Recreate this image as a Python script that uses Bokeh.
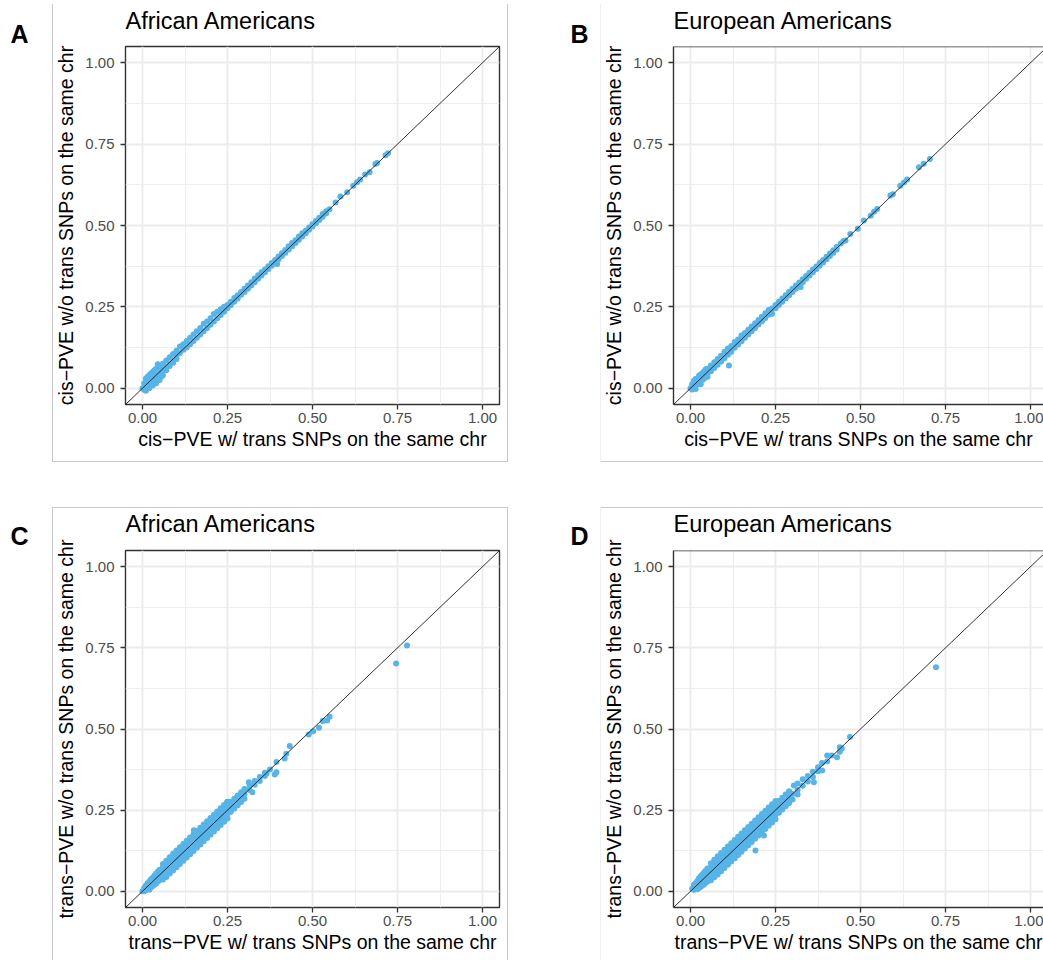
from bokeh.plotting import figure
from bokeh.models import (FixedTicker, Slope, Span, Title, NumeralTickFormatter)
from bokeh.layouts import column, row
from bokeh.embed import file_html
from bokeh.resources import INLINE

# ---------------- data ----------------
tick_vals = [0.0, 0.25, 0.5, 0.75, 1.0]
tick_labels = ["0.00", "0.25", "0.50", "0.75", "1.00"]
minor_vals = [0.125, 0.375, 0.625, 0.875]

titles = ["African Americans", "European Americans", "African Americans", "European Americans"]
letters = ["A", "B", "C", "D"]
x_labels = ["cis\u2212PVE w/ trans SNPs on the same chr", "cis\u2212PVE w/ trans SNPs on the same chr",
            "trans\u2212PVE w/ trans SNPs on the same chr", "trans\u2212PVE w/ trans SNPs on the same chr"]
y_labels = ["cis\u2212PVE w/o trans SNPs on the same chr", "cis\u2212PVE w/o trans SNPs on the same chr",
            "trans\u2212PVE w/o trans SNPs on the same chr", "trans\u2212PVE w/o trans SNPs on the same chr"]

# Panel A: cis-PVE, African Americans
A_x = [0.000, 0.005, 0.005, 0.010, 0.010, 0.010, 0.015, 0.015, 0.020, 0.020, 0.020, 0.025, 0.025,
       0.030, 0.030, 0.030, 0.035, 0.035, 0.040, 0.040, 0.040, 0.045, 0.045, 0.050, 0.050, 0.050,
       0.055, 0.055, 0.060, 0.060, 0.060, 0.070, 0.070, 0.070, 0.080, 0.080, 0.080, 0.090, 0.090,
       0.090, 0.100, 0.100, 0.100, 0.110, 0.110, 0.120, 0.120, 0.130, 0.130, 0.140, 0.140, 0.150,
       0.150, 0.160, 0.160, 0.170, 0.170, 0.180, 0.180, 0.190, 0.190, 0.200, 0.200, 0.210, 0.210,
       0.220, 0.220, 0.230, 0.230, 0.240, 0.240,
       0.25, 0.25, 0.26, 0.26, 0.27, 0.27, 0.28, 0.28, 0.29, 0.29, 0.30, 0.30, 0.31, 0.31, 0.32, 0.32,
       0.33, 0.33, 0.34, 0.34, 0.35, 0.35, 0.36, 0.36, 0.37, 0.37, 0.38, 0.38, 0.39, 0.39, 0.40, 0.40,
       0.41, 0.41, 0.42, 0.42, 0.43, 0.43, 0.44, 0.44, 0.45, 0.45, 0.46, 0.46, 0.47, 0.47, 0.48, 0.48,
       0.49, 0.49, 0.50, 0.50, 0.51, 0.51, 0.52, 0.52, 0.53, 0.53, 0.54, 0.54,
       0.396, 0.550, 0.568, 0.582, 0.602, 0.620, 0.631, 0.640, 0.655, 0.668, 0.685, 0.690, 0.715,
       0.722]
A_y = [0.000, 0.015, -0.005, 0.030, 0.010, -0.008, 0.035, 0.000, 0.040, 0.020, 0.000, 0.045, 0.010,
       0.050, 0.030, 0.008, 0.055, 0.015, 0.060, 0.040, 0.015, 0.074, 0.025, 0.065, 0.045, 0.025,
       0.060, 0.035, 0.075, 0.055, 0.040, 0.085, 0.065, 0.055, 0.095, 0.075, 0.068, 0.105, 0.085,
       0.078, 0.115, 0.100, 0.090, 0.128, 0.108, 0.135, 0.118, 0.145, 0.125, 0.155, 0.135, 0.165,
       0.145, 0.175, 0.155, 0.185, 0.165, 0.198, 0.175, 0.205, 0.185, 0.215, 0.195, 0.228, 0.205,
       0.235, 0.215, 0.243, 0.225, 0.250, 0.235,
       0.256, 0.246, 0.266, 0.256, 0.277, 0.266, 0.286, 0.276, 0.296, 0.287, 0.306, 0.296, 0.316, 0.306,
       0.326, 0.316, 0.337, 0.326, 0.347, 0.336, 0.356, 0.346, 0.365, 0.356, 0.375, 0.366, 0.385, 0.376,
       0.394, 0.384, 0.405, 0.396, 0.415, 0.406, 0.425, 0.416, 0.436, 0.426, 0.446, 0.436, 0.455, 0.446,
       0.466, 0.456, 0.476, 0.466, 0.484, 0.476, 0.494, 0.487, 0.504, 0.497, 0.514, 0.507, 0.524, 0.517,
       0.535, 0.527, 0.544, 0.537,
       0.382, 0.550, 0.571, 0.589, 0.602, 0.622, 0.633, 0.641, 0.657, 0.664, 0.689, 0.692, 0.716,
       0.722]

# Panel B: cis-PVE, European Americans
B_x = [0.000, 0.005, 0.005, 0.010, 0.010, 0.015, 0.015, 0.015, 0.020, 0.020, 0.025, 0.025, 0.030,
       0.030, 0.030, 0.035, 0.035, 0.040, 0.040, 0.045, 0.045, 0.050, 0.050, 0.050, 0.060, 0.060,
       0.070, 0.070, 0.080, 0.080, 0.090, 0.090, 0.100, 0.100, 0.113, 0.110, 0.110, 0.120, 0.120,
       0.130, 0.130, 0.140, 0.140, 0.150, 0.150, 0.160, 0.160, 0.170, 0.170, 0.180, 0.180, 0.190,
       0.190, 0.200, 0.200, 0.210, 0.210, 0.220, 0.220, 0.230, 0.230, 0.240, 0.240,
       0.25, 0.25, 0.26, 0.26, 0.27, 0.27, 0.28, 0.28, 0.29, 0.29, 0.30, 0.30, 0.31, 0.31, 0.32, 0.32,
       0.33, 0.33, 0.34, 0.34, 0.35, 0.35, 0.36, 0.36, 0.37, 0.37, 0.38, 0.38, 0.39, 0.39, 0.40, 0.40,
       0.41, 0.41, 0.42, 0.42, 0.43, 0.43,
       0.324, 0.442, 0.450, 0.456, 0.470, 0.492, 0.510, 0.530, 0.540, 0.549, 0.588, 0.595, 0.617,
       0.628, 0.637, 0.672, 0.686, 0.704]
B_y = [0.000, 0.012, -0.004, 0.022, 0.005, 0.028, 0.008, -0.002, 0.030, 0.012, 0.038, 0.015, 0.042,
       0.022, 0.012, 0.046, 0.025, 0.052, 0.030, 0.058, 0.035, 0.060, 0.045, 0.035, 0.070, 0.052,
       0.080, 0.062, 0.090, 0.072, 0.100, 0.082, 0.112, 0.092, 0.070, 0.122, 0.103, 0.130, 0.112,
       0.142, 0.124, 0.150, 0.134, 0.162, 0.144, 0.170, 0.155, 0.180, 0.165, 0.190, 0.175, 0.200,
       0.185, 0.210, 0.196, 0.220, 0.206, 0.230, 0.216, 0.240, 0.226, 0.245, 0.229,
       0.256, 0.246, 0.266, 0.256, 0.276, 0.266, 0.286, 0.276, 0.296, 0.286, 0.306, 0.296, 0.316, 0.306,
       0.325, 0.316, 0.335, 0.326, 0.345, 0.336, 0.355, 0.346, 0.365, 0.356, 0.374, 0.366, 0.385, 0.376,
       0.394, 0.386, 0.404, 0.396, 0.414, 0.406, 0.424, 0.416, 0.434, 0.426,
       0.311, 0.445, 0.452, 0.454, 0.474, 0.490, 0.515, 0.530, 0.542, 0.551, 0.592, 0.596, 0.622,
       0.632, 0.641, 0.679, 0.690, 0.704]

# Panel C: trans-PVE, African Americans
C_x = [0.000, 0.005, 0.005, 0.010, 0.010, 0.015, 0.015, 0.020, 0.020, 0.020, 0.025, 0.025, 0.025,
       0.030, 0.030, 0.030, 0.035, 0.035, 0.035, 0.040, 0.040, 0.040, 0.045, 0.045, 0.045, 0.050,
       0.050, 0.050,
       0.06, 0.06, 0.06, 0.06, 0.06, 0.07, 0.07, 0.07, 0.07, 0.07, 0.08, 0.08, 0.08, 0.08, 0.08,
       0.09, 0.09, 0.09, 0.09, 0.09, 0.10, 0.10, 0.10, 0.10, 0.10, 0.11, 0.11, 0.11, 0.11, 0.11,
       0.12, 0.12, 0.12, 0.12, 0.12, 0.13, 0.13, 0.13, 0.13, 0.13, 0.14, 0.14, 0.14, 0.14, 0.14,
       0.15, 0.15, 0.15, 0.15, 0.15, 0.16, 0.16, 0.16, 0.16, 0.16, 0.17, 0.17, 0.17, 0.17, 0.17,
       0.18, 0.18, 0.18, 0.18, 0.18, 0.19, 0.19, 0.19, 0.19, 0.19, 0.20, 0.20, 0.20, 0.20, 0.20,
       0.21, 0.21, 0.21, 0.21, 0.21, 0.22, 0.22, 0.22, 0.22, 0.22, 0.23, 0.23, 0.23, 0.23, 0.23,
       0.24, 0.24, 0.24, 0.24, 0.24, 0.25, 0.25, 0.25, 0.25, 0.25,
       0.26, 0.26, 0.26, 0.27, 0.27, 0.27, 0.28, 0.28, 0.28, 0.29, 0.29, 0.29, 0.30, 0.30, 0.30,
       0.151, 0.249, 0.278, 0.313, 0.315, 0.315, 0.323, 0.330, 0.330, 0.345, 0.345, 0.360, 0.360,
       0.365, 0.375, 0.389, 0.394, 0.394, 0.418, 0.423, 0.433, 0.489, 0.502, 0.519, 0.530, 0.543,
       0.550, 0.746, 0.778]
C_y = [0.000, 0.010, 0.000, 0.018, 0.004, 0.025, 0.008, 0.030, 0.015, 0.005, 0.037, 0.020, 0.012,
       0.042, 0.028, 0.016, 0.048, 0.032, 0.020, 0.055, 0.038, 0.024, 0.060, 0.044, 0.030, 0.066,
       0.050, 0.034,
       0.036, 0.047, 0.060, 0.073, 0.084, 0.044, 0.057, 0.070, 0.083, 0.094, 0.055, 0.067, 0.080,
       0.093, 0.105, 0.064, 0.077, 0.090, 0.103, 0.116, 0.074, 0.087, 0.100, 0.113, 0.126, 0.084,
       0.097, 0.110, 0.123, 0.136, 0.094, 0.107, 0.120, 0.133, 0.146, 0.104, 0.117, 0.130, 0.143,
       0.156, 0.114, 0.127, 0.140, 0.153, 0.166, 0.124, 0.137, 0.150, 0.163, 0.176, 0.134, 0.147,
       0.160, 0.173, 0.186, 0.144, 0.157, 0.170, 0.183, 0.196, 0.154, 0.167, 0.180, 0.193, 0.206,
       0.164, 0.177, 0.190, 0.203, 0.216, 0.174, 0.187, 0.200, 0.213, 0.226, 0.184, 0.197, 0.210,
       0.223, 0.236, 0.194, 0.207, 0.220, 0.233, 0.246, 0.204, 0.217, 0.230, 0.243, 0.256, 0.214,
       0.227, 0.240, 0.253, 0.266, 0.224, 0.237, 0.250, 0.263, 0.276,
       0.245, 0.260, 0.275, 0.255, 0.270, 0.285, 0.265, 0.280, 0.295, 0.275, 0.290, 0.305, 0.285,
       0.300, 0.315,
       0.188, 0.275, 0.290, 0.336, 0.326, 0.312, 0.305, 0.340, 0.328, 0.352, 0.340, 0.365, 0.355,
       0.363, 0.375, 0.360, 0.398, 0.367, 0.409, 0.424, 0.448, 0.483, 0.493, 0.504, 0.525, 0.526,
       0.538, 0.702, 0.757]

# Panel D: trans-PVE, European Americans
D_x = [0.005, 0.010, 0.010, 0.015, 0.015, 0.020, 0.020, 0.020, 0.025, 0.025, 0.025, 0.030, 0.030,
       0.030, 0.035, 0.035, 0.035, 0.040, 0.040, 0.040, 0.045, 0.045, 0.045, 0.050, 0.050, 0.050,
       0.06, 0.06, 0.06, 0.06, 0.06, 0.07, 0.07, 0.07, 0.07, 0.07, 0.08, 0.08, 0.08, 0.08, 0.08,
       0.09, 0.09, 0.09, 0.09, 0.09, 0.10, 0.10, 0.10, 0.10, 0.10, 0.11, 0.11, 0.11, 0.11, 0.11,
       0.12, 0.12, 0.12, 0.12, 0.12, 0.13, 0.13, 0.13, 0.13, 0.13, 0.14, 0.14, 0.14, 0.14, 0.14,
       0.15, 0.15, 0.15, 0.15, 0.15, 0.16, 0.16, 0.16, 0.16, 0.16, 0.17, 0.17, 0.17, 0.17, 0.17,
       0.18, 0.18, 0.18, 0.18, 0.18, 0.19, 0.19, 0.19, 0.19, 0.19, 0.20, 0.20, 0.20, 0.20, 0.20,
       0.21, 0.21, 0.21, 0.21, 0.21, 0.22, 0.22, 0.22, 0.22, 0.22, 0.23, 0.23, 0.23, 0.23, 0.23,
       0.24, 0.24, 0.24, 0.24, 0.24, 0.25, 0.25, 0.25, 0.25, 0.25,
       0.26, 0.26, 0.26, 0.27, 0.27, 0.27, 0.28, 0.28, 0.28, 0.29, 0.29, 0.29,
       0.300, 0.300, 0.304, 0.315, 0.315, 0.315, 0.330, 0.330, 0.345, 0.345, 0.360, 0.360, 0.363,
       0.375, 0.375, 0.387, 0.387, 0.402, 0.402, 0.415, 0.431, 0.439, 0.439, 0.445, 0.469, 0.722,
       0.191, 0.216]
D_y = [0.008, 0.020, 0.005, 0.025, 0.008, 0.032, 0.018, 0.006, 0.040, 0.022, 0.010, 0.046, 0.030,
       0.014, 0.052, 0.035, 0.018, 0.058, 0.040, 0.022, 0.064, 0.045, 0.026, 0.070, 0.050, 0.030,
       0.034, 0.046, 0.060, 0.074, 0.086, 0.043, 0.056, 0.070, 0.084, 0.097, 0.052, 0.066, 0.080,
       0.094, 0.108, 0.062, 0.076, 0.090, 0.104, 0.118, 0.072, 0.086, 0.100, 0.114, 0.128, 0.082,
       0.096, 0.110, 0.124, 0.138, 0.092, 0.106, 0.120, 0.134, 0.148, 0.102, 0.116, 0.130, 0.144,
       0.158, 0.112, 0.126, 0.140, 0.154, 0.168, 0.122, 0.136, 0.150, 0.164, 0.178, 0.132, 0.146,
       0.160, 0.174, 0.188, 0.142, 0.156, 0.170, 0.184, 0.198, 0.152, 0.166, 0.180, 0.194, 0.208,
       0.162, 0.176, 0.190, 0.204, 0.218, 0.172, 0.186, 0.200, 0.214, 0.228, 0.182, 0.196, 0.210,
       0.224, 0.238, 0.192, 0.206, 0.220, 0.234, 0.248, 0.202, 0.216, 0.230, 0.244, 0.258, 0.212,
       0.226, 0.240, 0.254, 0.268, 0.222, 0.236, 0.250, 0.264, 0.278,
       0.242, 0.260, 0.278, 0.252, 0.270, 0.288, 0.262, 0.280, 0.298, 0.272, 0.290, 0.308,
       0.300, 0.283, 0.326, 0.332, 0.312, 0.298, 0.345, 0.325, 0.355, 0.338, 0.368, 0.352, 0.336,
       0.382, 0.370, 0.395, 0.372, 0.418, 0.400, 0.418, 0.413, 0.444, 0.430, 0.440, 0.475, 0.690,
       0.126, 0.172]

# ---------------- styling ----------------
FONT = "Liberation Sans"
POINT_COLOR = "#56B4E9"
FRAME_COLOR = "#333333"
GRID_COLOR = "#ebebeb"
BOX_COLOR = "#c9c9c9"
FAINT_BOX = "#efefef"
PX_PER_X = 340.0


def box_css(lines):
    """lines: list of (color, x, y, w, h) in canvas pixels -> CSS background layers."""
    imgs = ", ".join("linear-gradient(%s, %s)" % (c, c) for c, *_ in lines)
    sizes = ", ".join("%dpx %dpx" % (w, h) for _, _, _, w, h in lines)
    pos = ", ".join("%dpx %dpx" % (x, y) for _, x, y, _, _ in lines)
    return {"background-image": imgs, "background-size": sizes,
            "background-position": pos, "background-repeat": "no-repeat"}


def make_panel(xs, ys, idx):
    left_col = idx in (0, 2)
    top_row = idx in (0, 1)
    width = 520 if left_col else 523
    height = 490 if top_row else 470
    fl, fw = (125, 374) if left_col else (153, 370)
    ft, fh = (46, 358) if top_row else (60, 357)
    x_start = -0.05
    x_end = x_start + fw / PX_PER_X
    y_start, y_end = -0.05, 1.05

    p = figure(width=width, height=height, x_range=(x_start, x_end), y_range=(y_start, y_end),
               output_backend="svg", toolbar_location=None,
               min_border_left=fl, min_border_right=width - fl - fw,
               min_border_top=ft, min_border_bottom=height - ft - fh)
    p.background_fill_color = "white"
    p.border_fill_color = None

    # panel letter (closest to the frame) and panel title above it
    p.add_layout(Title(text=letters[idx], align="left", offset=(10 if left_col else 50) - fl,
                       standoff=(-3 if top_row else 1), text_font=FONT, text_font_size="25px",
                       text_font_style="bold", text_color="black"), "above")
    p.title.text = titles[idx]
    p.title.text_font = FONT
    p.title.text_font_size = "23.5px"
    p.title.text_font_style = "normal"
    p.title.text_color = "black"
    p.title.align = "left"
    p.title.standoff = -29 if top_row else -34

    for ax, lab in ((p.xaxis[0], x_labels[idx]), (p.yaxis[0], y_labels[idx])):
        ax.ticker = FixedTicker(ticks=tick_vals, minor_ticks=minor_vals)
        ax.formatter = NumeralTickFormatter(format="0.00")
        ax.major_label_overrides = {v: t for v, t in zip(tick_vals, tick_labels)}
        ax.axis_label = lab
        ax.axis_label_text_font = FONT
        ax.axis_label_text_font_size = "19.5px"
        ax.axis_label_text_font_style = "normal"
        ax.axis_label_text_color = "black"
        ax.major_label_text_font = FONT
        ax.major_label_text_font_size = "15px"
        ax.major_label_text_color = "#4d4d4d"
        ax.major_tick_out = 5
        ax.major_tick_in = 0
        ax.minor_tick_out = 0
        ax.minor_tick_in = 0
        ax.major_tick_line_color = FRAME_COLOR
        ax.major_tick_line_width = 1.3
        if left_col:
            ax.axis_line_color = None
        else:
            ax.axis_line_color = FRAME_COLOR
            ax.axis_line_width = 1.4
    p.xaxis[0].major_label_standoff = 3
    p.yaxis[0].major_label_standoff = 6
    p.xaxis[0].axis_label_standoff = 2
    p.yaxis[0].axis_label_standoff = 5

    for g in (p.xgrid[0], p.ygrid[0]):
        g.ticker = FixedTicker(ticks=tick_vals, minor_ticks=minor_vals)
        g.grid_line_color = GRID_COLOR
        g.grid_line_width = 1.8
        g.minor_grid_line_color = GRID_COLOR
        g.minor_grid_line_width = 0.9

    if left_col:
        p.outline_line_color = FRAME_COLOR
        p.outline_line_width = 1.4
    else:
        p.outline_line_color = None
        p.add_layout(Span(location=y_end, dimension="width", line_color=FRAME_COLOR, line_width=1.4))

    p.scatter(xs, ys, size=6, fill_color=POINT_COLOR, line_color=None)
    p.add_layout(Slope(gradient=1, y_intercept=0, line_color="#1a1a1a", line_width=0.9))

    # light grey panel box drawn behind the (transparent) canvas border area
    if idx == 0:
        lines = [(BOX_COLOR, 52, 4, 1, 458), (BOX_COLOR, 507, 4, 1, 458), (BOX_COLOR, 52, 461, 456, 1)]
    elif idx == 1:
        lines = [(FAINT_BOX, 80, 4, 1, 458), (BOX_COLOR, 80, 461, 443, 1)]
    elif idx == 2:
        lines = [(BOX_COLOR, 52, 17, 1, 453), (BOX_COLOR, 507, 17, 1, 453), (BOX_COLOR, 52, 17, 456, 1)]
    else:
        lines = [(FAINT_BOX, 80, 17, 1, 453), (BOX_COLOR, 80, 17, 443, 1)]
    p.styles = box_css(lines)
    return p


pA = make_panel(A_x, A_y, 0)
pB = make_panel(B_x, B_y, 1)
pC = make_panel(C_x, C_y, 2)
pD = make_panel(D_x, D_y, 3)

layout = column(row(pA, pB, spacing=0), row(pC, pD, spacing=0), spacing=0)

with open("out.html", "w") as f:
    f.write(file_html(layout, INLINE, "PVE comparison"))
